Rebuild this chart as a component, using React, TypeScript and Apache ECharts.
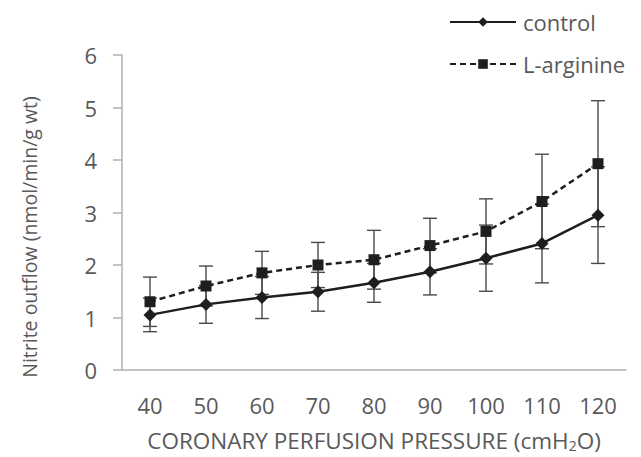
import React, { useEffect, useRef } from "react";
import * as echarts from "echarts";

const categories = ["40", "50", "60", "70", "80", "90", "100", "110", "120"];
const controlMean = [1.05, 1.25, 1.38, 1.49, 1.66, 1.87, 2.13, 2.41, 2.95];
const controlErr = [0.32, 0.36, 0.4, 0.37, 0.37, 0.44, 0.63, 0.75, 0.92];
const argMean = [1.3, 1.6, 1.85, 2.0, 2.1, 2.37, 2.64, 3.21, 3.93];
const argErr = [0.47, 0.38, 0.41, 0.43, 0.56, 0.52, 0.62, 0.9, 1.2];
const yTicks = [0, 1, 2, 3, 4, 5, 6];

const FONT = "'Open Sans', 'Noto Sans', sans-serif";
const TEXT = "#595959";
const AXIS = "#b0b0b0";

function errData(mean: number[], err: number[]) {
  return mean.map((m, i) => [i, m - err[i], m + err[i]]);
}

function errRender(params: any, api: any) {
  const x = api.value(0);
  const lo = api.coord([x, api.value(1)]);
  const hi = api.coord([x, api.value(2)]);
  const w = 7;
  const style = { stroke: "#4a4a4a", lineWidth: 1.4 };
  return {
    type: "group",
    children: [
      { type: "line", shape: { x1: hi[0], y1: hi[1], x2: lo[0], y2: lo[1] }, style },
      { type: "line", shape: { x1: hi[0] - w, y1: hi[1], x2: hi[0] + w, y2: hi[1] }, style },
      { type: "line", shape: { x1: lo[0] - w, y1: lo[1], x2: lo[0] + w, y2: lo[1] }, style },
    ],
  };
}

export default function App() {
  const ref = useRef<HTMLDivElement>(null);
  useEffect(() => {
    if (!ref.current) return;
    const chart = echarts.init(ref.current, undefined, { renderer: "svg" });
    chart.setOption({
      animation: false,
      backgroundColor: "#ffffff",
      grid: { left: 122, right: 15, top: 55, bottom: 87 },
      legend: {
        orient: "vertical",
        left: 449,
        top: 11,
        padding: 0,
        itemWidth: 66,
        itemHeight: 12,
        itemGap: 20,
        textStyle: { fontFamily: FONT, fontSize: 22, color: TEXT, padding: [0, 0, 0, 2] },
        data: ["control", "L-arginine"],
      },
      xAxis: {
        type: "category",
        data: categories,
        boundaryGap: true,
        axisLine: { lineStyle: { color: AXIS, width: 1.5 } },
        axisTick: { length: 7, lineStyle: { color: AXIS, width: 1.5 } },
        axisLabel: { margin: 24, fontFamily: FONT, fontSize: 22, color: TEXT },
        splitLine: { show: false },
      },
      yAxis: {
        type: "value",
        min: yTicks[0],
        max: yTicks[yTicks.length - 1],
        interval: 1,
        axisLine: { show: true, lineStyle: { color: AXIS, width: 1.5 } },
        axisTick: { show: true, inside: false, length: 9, lineStyle: { color: AXIS, width: 1.5 } },
        axisLabel: { margin: 25, fontFamily: FONT, fontSize: 22, color: TEXT },
        splitLine: { show: false },
      },
      graphic: [
        {
          type: "text",
          x: 29,
          y: 237,
          rotation: Math.PI / 2,
          style: {
            text: "Nitrite outflow (nmol/min/g wt)",
            fontFamily: FONT,
            fontSize: 19.5,
            fill: TEXT,
            align: "center",
            verticalAlign: "middle",
          },
        },
        {
          type: "text",
          x: 374,
          y: 440,
          style: {
            text: "CORONARY PERFUSION PRESSURE (cmH{sub|2}O)",
            fontFamily: FONT,
            fontSize: 22.5,
            fill: TEXT,
            align: "center",
            verticalAlign: "middle",
            rich: {
              sub: { fontFamily: FONT, fontSize: 14, fill: TEXT, verticalAlign: "bottom", padding: [10, 0, 0, 0] },
            },
          },
        },
      ],
      series: [
        {
          type: "custom",
          name: "controlErr",
          renderItem: errRender,
          data: errData(controlMean, controlErr),
          encode: { x: 0, y: [1, 2] },
          z: 1,
        },
        {
          type: "custom",
          name: "argErr",
          renderItem: errRender,
          data: errData(argMean, argErr),
          encode: { x: 0, y: [1, 2] },
          z: 1,
        },
        {
          type: "line",
          name: "control",
          data: controlMean,
          symbol: "diamond",
          symbolSize: 13,
          itemStyle: { color: "#1e1e1e" },
          lineStyle: { color: "#1e1e1e", width: 2.5 },
          z: 3,
        },
        {
          type: "line",
          name: "L-arginine",
          data: argMean,
          symbol: "rect",
          symbolSize: 11,
          itemStyle: { color: "#1e1e1e" },
          lineStyle: { color: "#1e1e1e", width: 2.5, type: [6, 4] },
          z: 3,
        },
      ],
    });
    return () => chart.dispose();
  }, []);
  return <div ref={ref} style={{ width: 641, height: 457, position: "absolute", left: 0, top: 0 }} />;
}
